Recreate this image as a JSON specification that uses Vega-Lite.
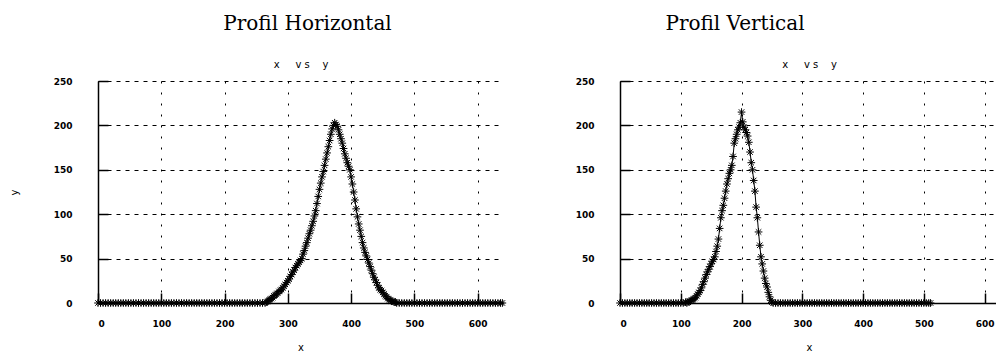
{
"$schema": "https://vega.github.io/schema/vega-lite/v6.json",
"padding": {"left": 9, "top": 14, "right": 0, "bottom": 0},
"background": "white",
"datasets": {
"h": [
{"x":0,"y":0},{"x":4,"y":0},{"x":8,"y":0},{"x":12,"y":0},{"x":16,"y":0},{"x":20,"y":0},{"x":24,"y":0},{"x":28,"y":0},{"x":32,"y":0},{"x":36,"y":0},{"x":40,"y":0},{"x":44,"y":0},{"x":48,"y":0},{"x":52,"y":0},{"x":56,"y":0},{"x":60,"y":0},{"x":64,"y":0},{"x":68,"y":0},{"x":72,"y":0},{"x":76,"y":0},{"x":80,"y":0},{"x":84,"y":0},{"x":88,"y":0},{"x":92,"y":0},{"x":96,"y":0},{"x":100,"y":0},{"x":104,"y":0},{"x":108,"y":0},{"x":112,"y":0},{"x":116,"y":0},{"x":120,"y":0},{"x":124,"y":0},{"x":128,"y":0},{"x":132,"y":0},{"x":136,"y":0},{"x":140,"y":0},{"x":144,"y":0},{"x":148,"y":0},{"x":152,"y":0},{"x":156,"y":0},{"x":160,"y":0},{"x":164,"y":0},{"x":168,"y":0},{"x":172,"y":0},{"x":176,"y":0},{"x":180,"y":0},{"x":184,"y":0},{"x":188,"y":0},{"x":192,"y":0},{"x":196,"y":0},{"x":200,"y":0},{"x":204,"y":0},{"x":208,"y":0},{"x":212,"y":0},{"x":216,"y":0},{"x":220,"y":0},{"x":224,"y":0},{"x":228,"y":0},{"x":232,"y":0},{"x":236,"y":0},{"x":240,"y":0},{"x":244,"y":0},{"x":248,"y":0},{"x":252,"y":0},{"x":256,"y":0},{"x":260,"y":0},
{"x":264,"y":0},{"x":266,"y":1},{"x":268,"y":2},{"x":270,"y":3},{"x":272,"y":4},{"x":274,"y":5},{"x":276,"y":6},{"x":278,"y":8},{"x":280,"y":9},{"x":282,"y":10},{"x":284,"y":11},{"x":286,"y":13},{"x":288,"y":14},{"x":290,"y":15},{"x":292,"y":17},{"x":294,"y":19},{"x":296,"y":21},{"x":298,"y":23},{"x":300,"y":25},{"x":302,"y":27},{"x":304,"y":30},{"x":306,"y":32},{"x":308,"y":35},{"x":310,"y":37},{"x":312,"y":40},{"x":314,"y":42},{"x":316,"y":44},{"x":318,"y":46},{"x":320,"y":48},{"x":322,"y":50},{"x":324,"y":55},{"x":326,"y":59},{"x":328,"y":64},{"x":330,"y":68},{"x":332,"y":73},{"x":334,"y":78},{"x":336,"y":82},{"x":338,"y":87},{"x":340,"y":92},{"x":342,"y":98},{"x":344,"y":104},{"x":346,"y":112},{"x":348,"y":120},{"x":350,"y":128},{"x":352,"y":135},{"x":354,"y":142},{"x":356,"y":148},{"x":358,"y":155},{"x":360,"y":162},{"x":362,"y":169},{"x":364,"y":176},{"x":366,"y":183},{"x":368,"y":190},{"x":370,"y":196},{"x":372,"y":200},{"x":374,"y":203},{"x":376,"y":201},{"x":378,"y":199},{"x":380,"y":195},{"x":382,"y":190},{"x":384,"y":185},{"x":386,"y":180},{"x":388,"y":174},{"x":390,"y":168},{"x":392,"y":163},{"x":394,"y":158},{"x":396,"y":154},{"x":398,"y":150},{"x":400,"y":142},{"x":402,"y":134},{"x":404,"y":125},{"x":406,"y":116},{"x":408,"y":106},{"x":410,"y":97},{"x":412,"y":89},{"x":414,"y":82},{"x":416,"y":75},{"x":418,"y":68},{"x":420,"y":62},{"x":422,"y":57},{"x":424,"y":53},{"x":426,"y":49},{"x":428,"y":45},{"x":430,"y":41},{"x":432,"y":37},{"x":434,"y":33},{"x":436,"y":29},{"x":438,"y":26},{"x":440,"y":23},{"x":442,"y":20},{"x":444,"y":17},{"x":446,"y":15},{"x":448,"y":14},{"x":450,"y":12},{"x":452,"y":10},{"x":454,"y":8},{"x":456,"y":7},{"x":458,"y":5},{"x":460,"y":4},{"x":462,"y":3},{"x":464,"y":2},{"x":466,"y":2},{"x":468,"y":1},{"x":470,"y":1},{"x":472,"y":0},
{"x":476,"y":0},{"x":480,"y":0},{"x":484,"y":0},{"x":488,"y":0},{"x":492,"y":0},{"x":496,"y":0},{"x":500,"y":0},{"x":504,"y":0},{"x":508,"y":0},{"x":512,"y":0},{"x":516,"y":0},{"x":520,"y":0},{"x":524,"y":0},{"x":528,"y":0},{"x":532,"y":0},{"x":536,"y":0},{"x":540,"y":0},{"x":544,"y":0},{"x":548,"y":0},{"x":552,"y":0},{"x":556,"y":0},{"x":560,"y":0},{"x":564,"y":0},{"x":568,"y":0},{"x":572,"y":0},{"x":576,"y":0},{"x":580,"y":0},{"x":584,"y":0},{"x":588,"y":0},{"x":592,"y":0},{"x":596,"y":0},{"x":600,"y":0},{"x":604,"y":0},{"x":608,"y":0},{"x":612,"y":0},{"x":616,"y":0},{"x":620,"y":0},{"x":624,"y":0},{"x":628,"y":0},{"x":632,"y":0},{"x":636,"y":0},{"x":639,"y":0}
],
"v": [
{"x":0,"y":0},{"x":4,"y":0},{"x":8,"y":0},{"x":12,"y":0},{"x":16,"y":0},{"x":20,"y":0},{"x":24,"y":0},{"x":28,"y":0},{"x":32,"y":0},{"x":36,"y":0},{"x":40,"y":0},{"x":44,"y":0},{"x":48,"y":0},{"x":52,"y":0},{"x":56,"y":0},{"x":60,"y":0},{"x":64,"y":0},{"x":68,"y":0},{"x":72,"y":0},{"x":76,"y":0},{"x":80,"y":0},{"x":84,"y":0},{"x":88,"y":0},{"x":92,"y":0},{"x":96,"y":0},{"x":100,"y":0},{"x":104,"y":0},{"x":108,"y":1},{"x":110,"y":0},
{"x":112,"y":1},{"x":114,"y":2},{"x":116,"y":2},{"x":118,"y":3},{"x":120,"y":4},{"x":122,"y":5},{"x":124,"y":6},{"x":126,"y":8},{"x":128,"y":10},{"x":130,"y":12},{"x":132,"y":14},{"x":134,"y":17},{"x":136,"y":21},{"x":138,"y":24},{"x":140,"y":28},{"x":142,"y":32},{"x":144,"y":35},{"x":146,"y":38},{"x":148,"y":41},{"x":150,"y":44},{"x":152,"y":47},{"x":154,"y":49},{"x":156,"y":52},{"x":158,"y":58},{"x":160,"y":64},{"x":162,"y":72},{"x":164,"y":84},{"x":166,"y":96},{"x":168,"y":104},{"x":170,"y":110},{"x":172,"y":118},{"x":174,"y":126},{"x":176,"y":134},{"x":178,"y":140},{"x":180,"y":146},{"x":182,"y":150},{"x":184,"y":155},{"x":186,"y":165},{"x":188,"y":180},{"x":190,"y":185},{"x":192,"y":190},{"x":194,"y":195},{"x":196,"y":198},{"x":198,"y":203},{"x":200,"y":215},{"x":202,"y":204},{"x":204,"y":198},{"x":206,"y":195},{"x":208,"y":192},{"x":210,"y":188},{"x":212,"y":181},{"x":214,"y":170},{"x":216,"y":158},{"x":218,"y":150},{"x":220,"y":138},{"x":222,"y":126},{"x":224,"y":108},{"x":226,"y":96},{"x":228,"y":80},{"x":230,"y":65},{"x":232,"y":52},{"x":234,"y":44},{"x":236,"y":36},{"x":238,"y":28},{"x":240,"y":22},{"x":242,"y":18},{"x":244,"y":12},{"x":246,"y":7},{"x":248,"y":3},{"x":250,"y":1},{"x":252,"y":0},
{"x":256,"y":0},{"x":260,"y":0},{"x":264,"y":0},{"x":268,"y":0},{"x":272,"y":0},{"x":276,"y":0},{"x":280,"y":0},{"x":284,"y":0},{"x":288,"y":0},{"x":292,"y":0},{"x":296,"y":0},{"x":300,"y":0},{"x":304,"y":0},{"x":308,"y":0},{"x":312,"y":0},{"x":316,"y":0},{"x":320,"y":0},{"x":324,"y":0},{"x":328,"y":0},{"x":332,"y":0},{"x":336,"y":0},{"x":340,"y":0},{"x":344,"y":0},{"x":348,"y":0},{"x":352,"y":0},{"x":356,"y":0},{"x":360,"y":0},{"x":364,"y":0},{"x":368,"y":0},{"x":372,"y":0},{"x":376,"y":0},{"x":380,"y":0},{"x":384,"y":0},{"x":388,"y":0},{"x":392,"y":0},{"x":396,"y":0},{"x":400,"y":0},{"x":404,"y":0},{"x":408,"y":0},{"x":412,"y":0},{"x":416,"y":0},{"x":420,"y":0},{"x":424,"y":0},{"x":428,"y":0},{"x":432,"y":0},{"x":436,"y":0},{"x":440,"y":0},{"x":444,"y":0},{"x":448,"y":0},{"x":452,"y":0},{"x":456,"y":0},{"x":460,"y":0},{"x":464,"y":0},{"x":468,"y":0},{"x":472,"y":0},{"x":476,"y":0},{"x":480,"y":0},{"x":484,"y":0},{"x":488,"y":0},{"x":492,"y":0},{"x":496,"y":0},{"x":500,"y":0},{"x":504,"y":0},{"x":508,"y":0},{"x":511,"y":0}
]
},
"hconcat": [
{
"title": {"text": "Profil Horizontal", "dx": 7, "frame": "group"},
"width": 405, "height": 222,
"data": {"name": "h"},
"layer": [
{"mark": {"type": "line", "color": "black", "strokeWidth": 1},
"encoding": {
"x": {"field": "x", "type": "quantitative", "scale": {"domain": [0, 640], "nice": false, "zero": false},
"axis": {"orient": "bottom", "title": "x", "values": [0,100,200,300,400,500,600], "grid": true}},
"y": {"field": "y", "type": "quantitative", "scale": {"domain": [0, 250], "nice": false},
"axis": {"title": "y", "values": [0,50,100,150,200,250], "grid": true, "titlePadding": 34}}
}},
{"mark": {"type": "point", "shape": "M-1,-1L1,1M1,-1L-1,1M0,-1.4L0,1.4M-1.4,0L1.4,0", "filled": false, "stroke": "black", "strokeWidth": 1, "size": 30, "opacity": 1},
"encoding": {
"x": {"field": "x", "type": "quantitative", "scale": {"domain": [0, 640], "nice": false, "zero": false},
"axis": {"orient": "top", "title": "x\u00a0\u00a0\u00a0\u00a0 v\u00a0s\u00a0\u00a0\u00a0 y", "labels": false, "ticks": false, "domain": false, "grid": false, "titlePadding": 12}},
"y": {"field": "y", "type": "quantitative", "scale": {"domain": [0, 250], "nice": false}}
}}
],
"resolve": {"axis": {"x": "independent"}}
},
{
"title": {"text": "Profil Vertical", "dx": -74, "frame": "group"},
"width": 378, "height": 222,
"data": {"name": "v"},
"layer": [
{"mark": {"type": "line", "color": "black", "strokeWidth": 1},
"encoding": {
"x": {"field": "x", "type": "quantitative", "scale": {"domain": [0, 622], "nice": false, "zero": false},
"axis": {"orient": "bottom", "title": "x", "values": [0,100,200,300,400,500,600], "grid": true}},
"y": {"field": "y", "type": "quantitative", "scale": {"domain": [0, 250], "nice": false},
"axis": {"title": null, "values": [0,50,100,150,200,250], "grid": true}}
}},
{"mark": {"type": "point", "shape": "M-1,-1L1,1M1,-1L-1,1M0,-1.4L0,1.4M-1.4,0L1.4,0", "filled": false, "stroke": "black", "strokeWidth": 1, "size": 30, "opacity": 1},
"encoding": {
"x": {"field": "x", "type": "quantitative", "scale": {"domain": [0, 622], "nice": false, "zero": false},
"axis": {"orient": "top", "title": "x\u00a0\u00a0\u00a0\u00a0 v\u00a0s\u00a0\u00a0\u00a0 y", "labels": false, "ticks": false, "domain": false, "grid": false, "titlePadding": 12}},
"y": {"field": "y", "type": "quantitative", "scale": {"domain": [0, 250], "nice": false}}
}}
],
"resolve": {"axis": {"x": "independent"}}
}
],
"spacing": 66,
"config": {
"view": {"stroke": null},
"font": "DejaVu Sans",
"title": {"font": "DejaVu Serif", "fontSize": 20, "fontWeight": "normal", "color": "black", "anchor": "middle", "offset": 25},
"axis": {"domainColor": "black", "domainWidth": 1.5, "tickColor": "black", "tickWidth": 1.5, "tickSize": -10,
"gridColor": "black", "gridOpacity": 1, "gridWidth": 1,
"labelFont": "DejaVu Sans", "labelFontWeight": "bold", "labelFontSize": 9, "labelColor": "black",
"titleFont": "DejaVu Sans", "titleFontWeight": "normal", "titleFontSize": 10, "titleColor": "black"},
"axisX": {"gridDash": [2, 9], "labelPadding": 26, "titlePadding": 14},
"axisY": {"gridDash": [4, 5], "labelPadding": 36}
}
}
